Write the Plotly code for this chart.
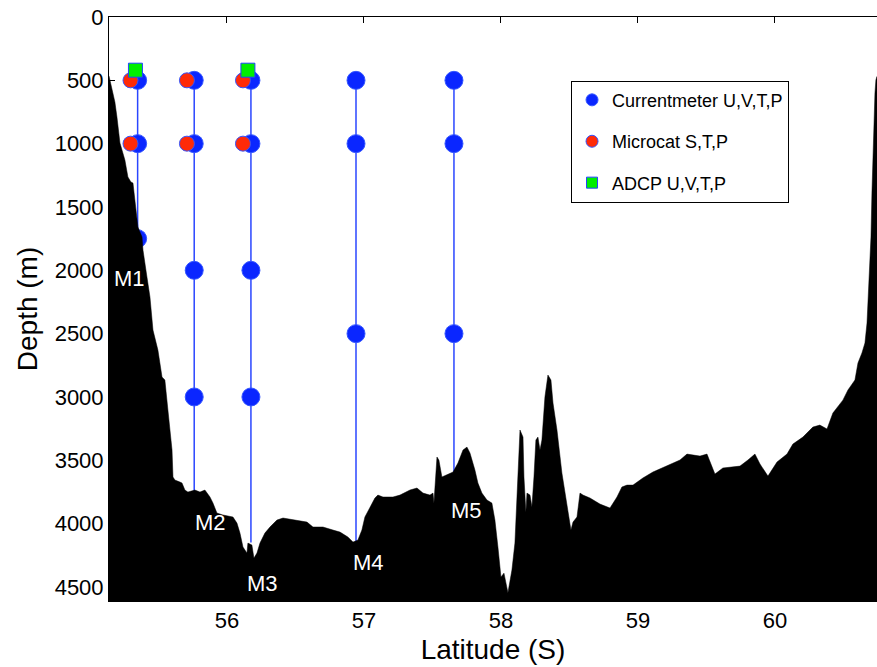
import plotly.graph_objects as go

# ---------------- data ----------------
bathy_lat = [55.139, 55.146, 55.168, 55.182, 55.197, 55.219, 55.255, 55.277, 55.299, 55.314,
             55.328, 55.350, 55.380, 55.387, 55.416, 55.438, 55.460, 55.496, 55.526, 55.547,
             55.569, 55.584, 55.599, 55.606, 55.620, 55.657, 55.672, 55.693, 55.715, 55.766,
             55.803, 55.839, 55.876, 55.898, 55.927, 55.971, 56.044, 56.073, 56.095, 56.117,
             56.146, 56.153, 56.182, 56.197, 56.219, 56.241, 56.277, 56.314, 56.365, 56.409,
             56.511, 56.584, 56.628, 56.701, 56.774, 56.825, 56.883, 56.920, 56.956, 56.985,
             57.007, 57.044, 57.080, 57.102, 57.139, 57.212, 57.263, 57.336, 57.387, 57.431,
             57.482, 57.504, 57.511, 57.533, 57.547, 57.569, 57.606, 57.650, 57.686, 57.723,
             57.752, 57.774, 57.810, 57.832, 57.861, 57.898, 57.934, 57.956, 57.978, 58.000,
             58.022, 58.044, 58.051, 58.080, 58.102, 58.117, 58.139, 58.161, 58.168, 58.182,
             58.190, 58.212, 58.226, 58.241, 58.255, 58.270, 58.285, 58.299, 58.321, 58.343,
             58.365, 58.380, 58.409, 58.445, 58.482, 58.511, 58.526, 58.555, 58.577, 58.599,
             58.650, 58.723, 58.796, 58.847, 58.883, 58.920, 58.964, 59.036, 59.109, 59.212,
             59.307, 59.358, 59.453, 59.504, 59.562, 59.620, 59.745, 59.803, 59.854, 59.891,
             59.949, 60.015, 60.088, 60.131, 60.204, 60.277, 60.328, 60.380, 60.423, 60.496,
             60.533, 60.584, 60.606, 60.635, 60.657, 60.672, 60.686, 60.701, 60.708, 60.715,
             60.730, 60.737, 60.745]
bathy_depth = [466, 497, 600, 671, 790, 995, 1129, 1263, 1303, 1311,
               1445, 1658, 1737, 1840, 2053, 2211, 2472, 2630, 2843, 2866,
               3103, 3238, 3419, 3632, 3656, 3672, 3680, 3735, 3751, 3735,
               3751, 3735, 3790, 3838, 3917, 3932, 3948, 3996, 4075, 4185,
               4233, 4154, 4169, 4272, 4233, 4154, 4075, 4027, 3972, 3956,
               3972, 3988, 4027, 4027, 4051, 4067, 4106, 4146, 4130, 4051,
               3948, 3869, 3798, 3775, 3790, 3790, 3775, 3735, 3719, 3759,
               3775, 3759, 3838, 3474, 3498, 3632, 3617, 3593, 3522, 3419,
               3396, 3443, 3577, 3680, 3759, 3814, 3838, 3972, 4185, 4422,
               4391, 4501, 4545, 4367, 4154, 3790, 3261, 3317, 3632, 3909,
               3759, 3775, 3869, 3632, 3340, 3317, 3419, 3340, 3001, 2827,
               2866, 3048, 3261, 3601, 3869, 4051, 3988, 3948, 3759, 3775,
               3798, 3846, 3877, 3790, 3711, 3696, 3696, 3640, 3593, 3546,
               3498, 3451, 3467, 3451, 3609, 3561, 3546, 3498, 3451, 3530,
               3625, 3514, 3451, 3372, 3317, 3238, 3222, 3253, 3127, 3025,
               2945, 2866, 2732, 2653, 2574, 2416, 2132, 1737, 1390, 1074,
               600, 497, 470]

mooring_names = ["M1", "M2", "M3", "M4", "M5"]
mooring_lat = [55.348, 55.761, 56.175, 56.942, 57.657]
mooring_top = [420, 500, 420, 500, 500]
mooring_bottom = [1740, 3745, 4150, 4140, 3600]

# instruments
currentmeter_lat = [55.348, 55.348, 55.348,
                    55.761, 55.761, 55.761, 55.761,
                    56.175, 56.175, 56.175, 56.175,
                    56.942, 56.942, 56.942,
                    57.657, 57.657, 57.657]
currentmeter_depth = [500, 1000, 1750,
                      500, 1000, 2000, 3000,
                      500, 1000, 2000, 3000,
                      500, 1000, 2500,
                      500, 1000, 2500]
microcat_lat = [55.296, 55.296, 55.708, 55.708, 56.117, 56.117]
microcat_depth = [500, 1000, 500, 1000, 500, 1000]
adcp_lat = [55.332, 56.153]
adcp_depth = [420, 420]

label_lat = [55.292, 55.883, 56.263, 57.036, 57.752]
label_depth = [2061, 3988, 4470, 4304, 3893]

x_ticks = [56, 57, 58, 59, 60]
y_ticks = [0, 500, 1000, 1500, 2000, 2500, 3000, 3500, 4000, 4500]
x_range = [55.139, 60.745]
y_range = [4611, 0]

legend_names = ["Currentmeter U,V,T,P", "Microcat S,T,P", "ADCP U,V,T,P"]

# ---------------- styles ----------------
BLUE = "#0a26ff"
LINE_BLUE = "#2a46ff"
RED = "#ff2a08"
GREEN = "#00ee00"
FONT = "Arial, Liberation Sans, sans-serif"

fig = go.Figure()

# mooring lines
for name, lat, top, bot in zip(mooring_names, mooring_lat, mooring_top, mooring_bottom):
    fig.add_trace(go.Scatter(x=[lat, lat], y=[top, bot], mode="lines",
                             line=dict(color=LINE_BLUE, width=1.5),
                             showlegend=False, hoverinfo="skip"))

# instruments
fig.add_trace(go.Scatter(x=currentmeter_lat, y=currentmeter_depth, mode="markers",
                         marker=dict(symbol="circle", size=18, color=BLUE,
                                     line=dict(color="#3355ff", width=1)),
                         showlegend=False, name=legend_names[0]))
fig.add_trace(go.Scatter(x=microcat_lat, y=microcat_depth, mode="markers",
                         marker=dict(symbol="circle", size=15, color=RED,
                                     line=dict(color="#3355ff", width=1)),
                         showlegend=False, name=legend_names[1]))
fig.add_trace(go.Scatter(x=adcp_lat, y=adcp_depth, mode="markers",
                         marker=dict(symbol="square", size=14, color=GREEN,
                                     line=dict(color="#2244ff", width=1)),
                         showlegend=False, name=legend_names[2]))

# bathymetry (black, drawn on top)
poly_lat = bathy_lat + [x_range[1], x_range[0]]
poly_depth = bathy_depth + [y_range[0] + 200, y_range[0] + 200]
fig.add_trace(go.Scatter(x=poly_lat, y=poly_depth, mode="lines", fill="toself",
                         fillcolor="black", line=dict(color="black", width=0.5),
                         showlegend=False, hoverinfo="skip"))

# legend-only entries
fig.add_trace(go.Scatter(x=[None], y=[None], mode="markers", name=legend_names[0],
                         marker=dict(symbol="circle", size=12, color=BLUE,
                                     line=dict(color="#3355ff", width=1)),
                         legendgroup="a"))
fig.add_trace(go.Scatter(x=[None], y=[None], mode="markers", name=legend_names[1],
                         marker=dict(symbol="circle", size=12, color=RED,
                                     line=dict(color="#3355ff", width=1)),
                         legendgroup="b"))
fig.add_trace(go.Scatter(x=[None], y=[None], mode="markers", name=legend_names[2],
                         marker=dict(symbol="square", size=11, color=GREEN,
                                     line=dict(color="#2244ff", width=1)),
                         legendgroup="c"))

# mooring labels
for name, lat, dep in zip(mooring_names, label_lat, label_depth):
    fig.add_annotation(x=lat, y=dep, text=name, showarrow=False,
                       font=dict(family=FONT, size=22, color="white"),
                       xanchor="center", yanchor="middle")

fig.update_layout(
    width=877, height=667,
    margin=dict(l=109, r=0, t=17, b=66),
    paper_bgcolor="white", plot_bgcolor="white",
    font=dict(family=FONT, color="black"),
    showlegend=True,
    legend=dict(x=0.6016, y=0.891, xanchor="left", yanchor="top",
                bgcolor="white", bordercolor="black", borderwidth=1,
                font=dict(family=FONT, size=18, color="black"),
                tracegroupgap=15, traceorder="grouped"),
)
fig.update_xaxes(range=x_range, tickvals=x_ticks, ticktext=[str(v) for v in x_ticks],
                 ticks="inside", ticklen=6, tickcolor="black",
                 showline=True, linecolor="black", linewidth=1, mirror="ticks",
                 showgrid=False, zeroline=False, ticklabeloverflow="allow",
                 tickfont=dict(family=FONT, size=22, color="black"),
                 title=dict(text="Latitude (S)", font=dict(family=FONT, size=28, color="black"),
                            standoff=6))
fig.update_yaxes(range=y_range, tickvals=y_ticks, ticktext=[str(v) for v in y_ticks],
                 ticks="inside", ticklen=6, tickcolor="black",
                 showline=True, linecolor="black", linewidth=1, mirror=False,
                 showgrid=False, zeroline=False, ticklabeloverflow="allow",
                 tickfont=dict(family=FONT, size=22, color="black"),
                 title=dict(text="Depth (m)", font=dict(family=FONT, size=28, color="black"),
                            standoff=8))

# remove the default 8px page margin so the figure sits at the window's corner
fig.write_html("out.html",
               config={"displayModeBar": False},
               post_script="document.body.style.margin='0';document.body.style.padding='0';")
